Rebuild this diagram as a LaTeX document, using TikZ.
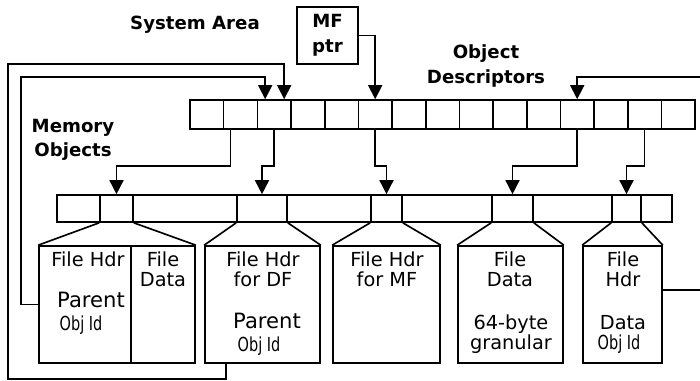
\documentclass[tikz,border=0pt]{standalone}
\usepackage{fontspec}
\setsansfont{DejaVu Sans}
\usetikzlibrary{arrows.meta}

\tikzset{
  lbl/.style={font=\sffamily\bfseries\fontsize{15.5}{21}\selectfont, align=center, inner sep=0pt},
  txt/.style={font=\sffamily\fontsize{16.5}{17}\selectfont, align=center, inner sep=0pt},
  big/.style={font=\sffamily\fontsize{18}{20}\selectfont, inner sep=0pt},
  odcell/.style={draw, line width=1.4pt, inner sep=0pt, minimum width=1.01cm, minimum height=0.87cm},
  mocell/.style={draw, line width=1.4pt, inner sep=0pt, minimum height=0.81cm},
  objbox/.style={draw, line width=1.4pt, inner sep=0pt, minimum height=3.51cm},
  arr/.style={line width=1.4pt, -{Triangle[width=12pt,length=12pt]}},
  ln/.style={line width=1.4pt}
}
\newcommand\objid{\scalebox{0.75}[1]{Obj Id}}

\begin{document}
\begin{tikzpicture}[x=0.03cm, y=-0.03cm]
\useasboundingbox (0,0) rectangle (700,380);

\node[lbl] (sysarea) at (195,25) {System Area};
\node[lbl] (objdesc) at (486,66) {Object\\Descriptors};
\node[lbl] (memobj) at (73,140) {Memory\\Objects};
\node[lbl, draw, line width=1.4pt, minimum width=1.83cm, minimum height=1.71cm] (mfptr) at (327.5,35.5) {MF\\ptr};

\foreach \i in {1,...,15}
  \node[odcell] (od\i) at ({190+33.67*(\i-0.5)},114.5) {};

\foreach \l/\r [count=\k] in {57/100,100/133,133/237,237/287,287/371,371/402,402/492,492/533,533/612,612/641,641/672}
  \node[mocell, minimum width={(\r-\l)*0.03cm}] (mo\k) at ({(\l+\r)/2},208.5) {};

\node[objbox, minimum width=4.68cm] (fh1) at (117,304.5) {};
\node[objbox, minimum width=3.45cm] (fhdf) at (262.5,304.5) {};
\node[objbox, minimum width=3.21cm] (fhmf) at (386.5,304.5) {};
\node[objbox, minimum width=3.15cm] (fdata) at (510.5,304.5) {};
\node[objbox, minimum width=2.37cm] (fh5) at (622.5,304.5) {};
\draw[ln] ([xshift=0.42cm]fh1.north) -- ([xshift=0.42cm]fh1.south);

\draw[ln] (mo2.south west) -- (fh1.north west) (mo2.south east) -- (fh1.north east);
\draw[ln] (mo4.south west) -- (fhdf.north west) (mo4.south east) -- (fhdf.north east);
\draw[ln] (mo6.south west) -- (fhmf.north west) (mo6.south east) -- (fhmf.north east);
\draw[ln] (mo8.south west) -- (fdata.north west) (mo8.south east) -- (fdata.north east);
\draw[ln] (mo10.south west) -- (fh5.north west) (mo10.south east) -- (fh5.north east);

\node[txt] (t1a) at (88,259) {File Hdr};
\node[big] (t1b) at (91,300) {Parent};
\node[txt] (t1c) at (81,325) {\objid};
\node[txt] (t1d) at (163,269.5) {File\\Data};
\node[txt] (t2a) at (263,269.5) {File Hdr\\for DF};
\node[big] (t2b) at (267,321) {Parent};
\node[txt] (t2c) at (259,346) {\objid};
\node[txt] (t3a) at (387,269.5) {File Hdr\\for MF};
\node[txt] (t4a) at (510,269.5) {File\\Data};
\node[txt] (t4b) at (511,334) {64-byte\\granular};
\node[txt] (t5a) at (623,269.5) {File\\Hdr};
\node[txt] (t5b) at (623,323) {Data};
\node[txt] (t5c) at (619,344) {\objid};

\coordinate (lvl) at (0,166);
\draw[arr] ([xshift=-0.3cm]od2.south) |- (mo2.north |- lvl) -- (mo2.north);
\draw[arr] (od3.south) |- (mo4.north |- lvl) -- (mo4.north);
\draw[arr] (od6.south) |- (mo6.north |- lvl) -- (mo6.north);
\draw[arr] (od12.south) |- (mo8.north |- lvl) -- (mo8.north);
\draw[arr] (od14.south) |- (mo10.north |- lvl) -- (mo10.north);

\draw[arr] (mfptr.east) -| (od6.north);
\coordinate (rin) at (700,77);
\draw[arr] (rin) -| (od12.north);
\coordinate (rout) at (700,290);
\draw[ln] ([yshift=0.435cm]fh5.east) -- (rout);

\draw[arr] (fh1.west) -| (21,77) -| ([xshift=-0.27cm]od3.north);
\draw[arr] ([xshift=-1.09cm]fhdf.south) -- ++(0,15) -| (8,64) -| ([xshift=0.3cm]od3.north);
\end{tikzpicture}
\end{document}
